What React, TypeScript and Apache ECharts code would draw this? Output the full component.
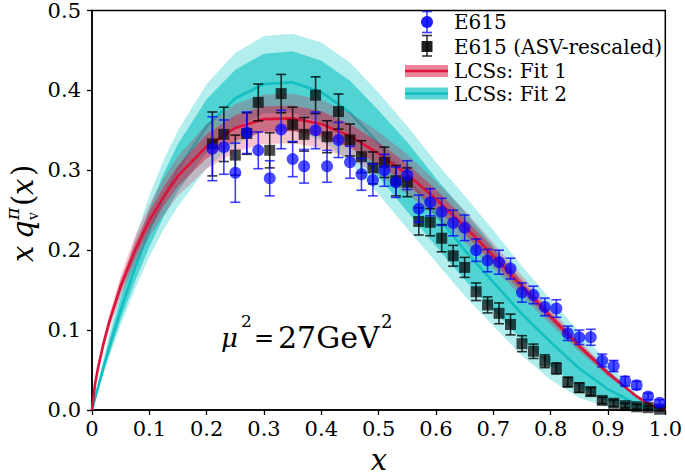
import React, { useEffect, useRef } from "react";
import * as echarts from "echarts";

const xTickLabels = ["0", "0.1", "0.2", "0.3", "0.4", "0.5", "0.6", "0.7", "0.8", "0.9", "1.0"];
const yTickLabels = ["0.0", "0.1", "0.2", "0.3", "0.4", "0.5"];

const dataX = [0.21, 0.23, 0.25, 0.27, 0.29, 0.31, 0.33, 0.35, 0.37, 0.39, 0.41, 0.43, 0.45, 0.47, 0.49, 0.51, 0.53, 0.55, 0.57, 0.59, 0.61, 0.63, 0.65, 0.67, 0.69, 0.71, 0.73, 0.75, 0.77, 0.79, 0.81, 0.83, 0.85, 0.87, 0.89, 0.91, 0.93, 0.95, 0.97, 0.99];
const e615Y = [0.327, 0.329, 0.297, 0.347, 0.325, 0.29, 0.351, 0.314, 0.305, 0.35, 0.305, 0.338, 0.31, 0.295, 0.288, 0.3, 0.285, 0.294, 0.252, 0.26, 0.248, 0.234, 0.228, 0.2, 0.187, 0.185, 0.177, 0.147, 0.144, 0.129, 0.127, 0.096, 0.091, 0.091, 0.062, 0.055, 0.036, 0.031, 0.017, 0.009];
const e615Err = [0.04, 0.034, 0.037, 0.026, 0.023, 0.022, 0.024, 0.022, 0.021, 0.023, 0.02, 0.022, 0.02, 0.02, 0.02, 0.02, 0.019, 0.018, 0.017, 0.017, 0.017, 0.016, 0.016, 0.014, 0.014, 0.015, 0.013, 0.012, 0.011, 0.011, 0.011, 0.009, 0.009, 0.01, 0.008, 0.007, 0.006, 0.005, 0.004, 0.004];
const asvY = [0.333, 0.345, 0.319, 0.346, 0.385, 0.325, 0.396, 0.357, 0.345, 0.394, 0.342, 0.3735, 0.338, 0.317, 0.303, 0.31, 0.287, 0.285, 0.236, 0.235, 0.215, 0.193, 0.1785, 0.148, 0.1315, 0.121, 0.107, 0.083, 0.0735, 0.061, 0.052, 0.035, 0.028, 0.023, 0.012, 0.0085, 0.0055, 0.004, 0.003, 0.001];
const asvErr = [0.04, 0.034, 0.025, 0.026, 0.023, 0.022, 0.024, 0.022, 0.021, 0.023, 0.02, 0.022, 0.02, 0.02, 0.02, 0.019, 0.019, 0.018, 0.017, 0.017, 0.017, 0.013, 0.0125, 0.011, 0.01, 0.013, 0.013, 0.01, 0.009, 0.008, 0.007, 0.006, 0.006, 0.005, 0.004, 0.004, 0.003, 0.003, 0.002, 0.002];

const curveX = [0, 0.005, 0.01, 0.02, 0.03, 0.05, 0.075, 0.1, 0.125, 0.15, 0.2, 0.25, 0.3, 0.35, 0.4, 0.45, 0.5, 0.55, 0.6, 0.65, 0.7, 0.75, 0.8, 0.85, 0.9, 0.95, 0.975, 1.0];
const fit1Mean = [0, 0.031, 0.051, 0.083, 0.11, 0.155, 0.2, 0.237, 0.267, 0.293, 0.33, 0.353, 0.364, 0.365, 0.358, 0.343, 0.321, 0.295, 0.264, 0.23, 0.193, 0.155, 0.117, 0.08, 0.046, 0.017, 0.006, 0];
const fit1InnerHi = [0, 0.032, 0.053, 0.087, 0.115, 0.162, 0.209, 0.248, 0.279, 0.306, 0.345, 0.369, 0.38, 0.381, 0.374, 0.358, 0.335, 0.308, 0.276, 0.24, 0.202, 0.162, 0.122, 0.084, 0.049, 0.018, 0.007, 0];
const fit1InnerLo = [0, 0.03, 0.049, 0.079, 0.105, 0.148, 0.191, 0.226, 0.255, 0.28, 0.315, 0.337, 0.348, 0.349, 0.342, 0.328, 0.307, 0.282, 0.252, 0.22, 0.184, 0.148, 0.112, 0.076, 0.044, 0.016, 0.006, 0];
const fit1OuterHi = [0, 0.034, 0.055, 0.09, 0.119, 0.168, 0.217, 0.257, 0.29, 0.318, 0.358, 0.383, 0.395, 0.396, 0.388, 0.372, 0.348, 0.32, 0.286, 0.25, 0.209, 0.168, 0.127, 0.087, 0.05, 0.018, 0.0065, 0];
const fit1OuterLo = [0, 0.028, 0.047, 0.076, 0.101, 0.142, 0.183, 0.217, 0.244, 0.268, 0.302, 0.323, 0.333, 0.334, 0.328, 0.314, 0.294, 0.27, 0.242, 0.21, 0.177, 0.142, 0.107, 0.073, 0.042, 0.016, 0.0055, 0];

const fit2Mean = [0, 0.014, 0.027, 0.053, 0.078, 0.125, 0.178, 0.225, 0.266, 0.301, 0.355, 0.39, 0.408, 0.41, 0.398, 0.372, 0.333, 0.29, 0.245, 0.2, 0.16, 0.12, 0.085, 0.052, 0.026, 0.007, 0.002, 0];
const fit2InnerHi = [0, 0.015, 0.03, 0.059, 0.088, 0.14, 0.2, 0.252, 0.296, 0.333, 0.389, 0.426, 0.446, 0.449, 0.437, 0.412, 0.375, 0.335, 0.29, 0.248, 0.205, 0.16, 0.118, 0.082, 0.05, 0.016, 0.005, 0];
const fit2InnerLo = [0, 0.013, 0.024, 0.048, 0.07, 0.113, 0.161, 0.204, 0.242, 0.274, 0.323, 0.354, 0.371, 0.372, 0.36, 0.333, 0.292, 0.248, 0.205, 0.163, 0.125, 0.088, 0.055, 0.028, 0.01, 0.001, 0, 0];
const fit2OuterHi = [0, 0.017, 0.033, 0.064, 0.095, 0.152, 0.215, 0.268, 0.313, 0.35, 0.408, 0.447, 0.468, 0.471, 0.46, 0.435, 0.397, 0.355, 0.31, 0.268, 0.225, 0.18, 0.138, 0.098, 0.06, 0.02, 0.006, 0];
const fit2OuterLo = [0, 0.012, 0.023, 0.045, 0.066, 0.106, 0.151, 0.192, 0.226, 0.255, 0.303, 0.333, 0.349, 0.35, 0.338, 0.31, 0.27, 0.227, 0.185, 0.143, 0.105, 0.068, 0.038, 0.015, 0.003, 0, 0, 0];

const legendNames = ["E615", "E615 (ASV-rescaled)", "LCSs: Fit 1", "LCSs: Fit 2"];

const RED = "#DC143C";
const CYAN = "#12BFC2";
const BLUE = "rgba(0,0,255,0.88)";
const BLUE_ERR = "rgba(0,0,255,0.75)";
const BLACK = "rgba(0,0,0,0.88)";
const BLACK_ERR = "rgba(0,0,0,0.78)";
const SERIF = "DejaVu Serif";
const MATH = "DejaVu Serif";

function errRender(color: string) {
  return (params: any, api: any) => {
    const x = api.value(0);
    const y = api.value(1);
    const e = api.value(2);
    const p1 = api.coord([x, y + e]);
    const p2 = api.coord([x, y - e]);
    const w = 5;
    const st = { stroke: color, lineWidth: 1.6 };
    return {
      type: "group",
      children: [
        { type: "line", shape: { x1: p1[0], y1: p1[1], x2: p2[0], y2: p2[1] }, style: st },
        { type: "line", shape: { x1: p1[0] - w, y1: p1[1], x2: p1[0] + w, y2: p1[1] }, style: st },
        { type: "line", shape: { x1: p2[0] - w, y1: p2[1], x2: p2[0] + w, y2: p2[1] }, style: st },
      ],
    };
  };
}

function fitsRender(params: any, api: any) {
  const pts = (ys: number[]) => curveX.map((x, i) => api.coord([x, ys[i]]));
  const band = (lo: number[], hi: number[], fill: string) => {
    const top = pts(hi);
    const bot = pts(lo).reverse();
    return { type: "polygon", shape: { points: top.concat(bot.slice(1, bot.length - 1)) }, style: { fill } };
  };
  const line = (ys: number[], stroke: string) => ({
    type: "polyline",
    shape: { points: pts(ys) },
    style: { stroke, lineWidth: 2.6, fill: "none" },
  });
  return {
    type: "group",
    children: [
      band(fit2OuterLo, fit2OuterHi, "rgba(0,200,200,0.30)"),
      band(fit2InnerLo, fit2InnerHi, "rgba(0,190,190,0.55)"),
      line(fit2Mean, CYAN),
      band(fit1OuterLo, fit1OuterHi, "rgba(220,20,60,0.25)"),
      band(fit1InnerLo, fit1InnerHi, "rgba(220,20,60,0.45)"),
      line(fit1Mean, RED),
    ],
  };
}

export default function App() {
  const ref = useRef<HTMLDivElement>(null);
  useEffect(() => {
    if (!ref.current) return;
    const chart = echarts.init(ref.current, undefined, { renderer: "svg" });
    const legX = 454;
    const legY = [22, 46.5, 71, 93.5];
    const option: any = {
      animation: false,
      backgroundColor: "#fff",
      grid: { left: 92, right: 17, top: 10, bottom: 66, show: true, borderColor: "#000", borderWidth: 1.5, backgroundColor: "transparent" },
      xAxis: {
        type: "value",
        min: 0,
        max: 1,
        interval: 0.1,
        axisLine: { show: true, lineStyle: { color: "#000", width: 1.5 } },
        axisTick: { show: true, inside: false, length: 5, lineStyle: { color: "#000", width: 1.3 } },
        splitLine: { show: false },
        axisLabel: {
          margin: 8,
          color: "#000",
          fontFamily: SERIF,
          fontSize: 21,
          formatter: (v: number) => xTickLabels[Math.round(v * 10)],
        },
      },
      yAxis: {
        type: "value",
        min: 0,
        max: 0.5,
        interval: 0.1,
        axisLine: { show: true, lineStyle: { color: "#000", width: 1.5 } },
        axisTick: { show: true, inside: false, length: 5, lineStyle: { color: "#000", width: 1.3 } },
        splitLine: { show: false },
        axisLabel: {
          margin: 11,
          color: "#000",
          fontFamily: SERIF,
          fontSize: 21,
          formatter: (v: number) => yTickLabels[Math.round(v * 10)],
        },
      },
      series: [
        {
          type: "custom",
          name: "fits",
          renderItem: fitsRender,
          data: [[0, 0]],
          encode: { x: 0, y: 1 },
          silent: true,
          z: 2,
        },
        {
          type: "custom",
          renderItem: errRender(BLACK_ERR),
          data: dataX.map((x, i) => [x, asvY[i], asvErr[i]]),
          encode: { x: 0, y: 1 },
          z: 7,
        },
        {
          type: "scatter",
          name: legendNames[1],
          data: dataX.map((x, i) => [x, asvY[i]]),
          symbol: "rect",
          symbolSize: 11,
          itemStyle: { color: BLACK },
          z: 8,
        },
        {
          type: "custom",
          renderItem: errRender(BLUE_ERR),
          data: dataX.map((x, i) => [x, e615Y[i], e615Err[i]]),
          encode: { x: 0, y: 1 },
          z: 9,
        },
        {
          type: "scatter",
          name: legendNames[0],
          data: dataX.map((x, i) => [x, e615Y[i]]),
          symbol: "circle",
          symbolSize: 12,
          itemStyle: { color: BLUE },
          z: 10,
        },
      ],
      graphic: [
        { type: "line", shape: { x1: 427, y1: 11.5, x2: 427, y2: 32.5 }, style: { stroke: BLUE_ERR, lineWidth: 1.6 }, z: 100 },
        { type: "line", shape: { x1: 422, y1: 11.5, x2: 432, y2: 11.5 }, style: { stroke: BLUE_ERR, lineWidth: 1.6 }, z: 100 },
        { type: "line", shape: { x1: 422, y1: 32.5, x2: 432, y2: 32.5 }, style: { stroke: BLUE_ERR, lineWidth: 1.6 }, z: 100 },
        { type: "circle", shape: { cx: 427, cy: 22, r: 6 }, style: { fill: BLUE }, z: 100 },
        { type: "line", shape: { x1: 427, y1: 35.5, x2: 427, y2: 56 }, style: { stroke: BLACK_ERR, lineWidth: 1.6 }, z: 100 },
        { type: "line", shape: { x1: 422, y1: 35.5, x2: 432, y2: 35.5 }, style: { stroke: BLACK_ERR, lineWidth: 1.6 }, z: 100 },
        { type: "line", shape: { x1: 422, y1: 56, x2: 432, y2: 56 }, style: { stroke: BLACK_ERR, lineWidth: 1.6 }, z: 100 },
        { type: "rect", shape: { x: 421.5, y: 41, width: 11, height: 11 }, style: { fill: BLACK }, z: 100 },
        { type: "rect", shape: { x: 405, y: 65, width: 43, height: 12 }, style: { fill: "rgba(232,110,135,0.85)" }, z: 100 },
        { type: "line", shape: { x1: 405, y1: 71, x2: 448, y2: 71 }, style: { stroke: RED, lineWidth: 2.5 }, z: 101 },
        { type: "rect", shape: { x: 405, y: 87.5, width: 43, height: 12 }, style: { fill: "rgba(60,205,205,0.85)" }, z: 100 },
        { type: "line", shape: { x1: 405, y1: 93.5, x2: 448, y2: 93.5 }, style: { stroke: CYAN, lineWidth: 2.5 }, z: 101 },
        ...legendNames.map((t, i) => ({
          type: "text",
          x: legX,
          y: legY[i],
          style: { text: t, fill: "#000", font: `20px '${SERIF}'`, verticalAlign: "middle" },
          z: 100,
        })),
        { type: "text", x: 221, y: 338, style: { text: "μ", fill: "#000", font: `italic 26px '${MATH}'`, verticalAlign: "middle" }, z: 100 },
        { type: "text", x: 241, y: 321, style: { text: "2", fill: "#000", font: `17px '${MATH}'`, verticalAlign: "middle" }, z: 100 },
        { type: "text", x: 254, y: 338, style: { text: "=", fill: "#000", font: `24px '${MATH}'`, verticalAlign: "middle" }, z: 100 },
        { type: "text", x: 278, y: 337, style: { text: "27GeV", fill: "#000", font: `30px '${MATH}'`, verticalAlign: "middle" }, z: 100 },
        { type: "text", x: 381, y: 321, style: { text: "2", fill: "#000", font: `18px '${MATH}'`, verticalAlign: "middle" }, z: 100 },
        { type: "text", x: 379, y: 460, style: { text: "x", fill: "#000", font: `italic 29px '${MATH}'`, align: "center", verticalAlign: "middle" }, z: 100 },
        {
          type: "group",
          x: 23,
          y: 212,
          rotation: Math.PI / 2,
          children: [
            { type: "text", x: -50, y: 0, style: { text: "x", fill: "#000", font: `italic 29px '${MATH}'`, verticalAlign: "middle" } },
            { type: "text", x: -27, y: 0, style: { text: "q", fill: "#000", font: `italic 29px '${MATH}'`, verticalAlign: "middle" } },
            { type: "text", x: -8, y: -11, style: { text: "π", fill: "#000", font: `italic 19px '${MATH}'`, verticalAlign: "middle" } },
            { type: "text", x: -8, y: 10, style: { text: "v", fill: "#000", font: `14px '${MATH}'`, verticalAlign: "middle" } },
            { type: "text", x: 6, y: 0, style: { text: "(", fill: "#000", font: `29px '${MATH}'`, verticalAlign: "middle" } },
            { type: "text", x: 17, y: 0, style: { text: "x", fill: "#000", font: `italic 29px '${MATH}'`, verticalAlign: "middle" } },
            { type: "text", x: 36, y: 0, style: { text: ")", fill: "#000", font: `29px '${MATH}'`, verticalAlign: "middle" } },
          ],
        },
      ],
    };
    chart.setOption(option);
    return () => chart.dispose();
  }, []);
  return <div ref={ref} style={{ width: 685, height: 476, position: "absolute", left: 0, top: 0 }} />;
}
